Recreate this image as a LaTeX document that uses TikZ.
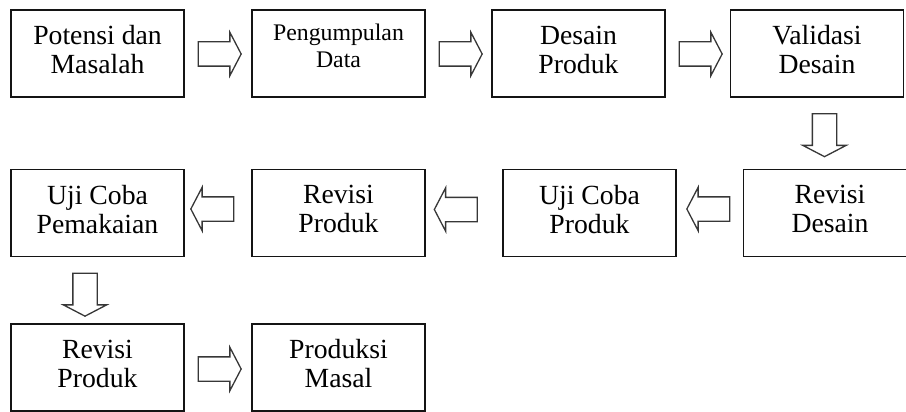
\documentclass[tikz,border=0pt]{standalone}
\usepackage{fontspec}
\setmainfont{Liberation Serif}
\usepackage{xcolor}
\usepackage{tikz}
\usetikzlibrary{positioning, shapes.arrows}
\definecolor{rdBlack}{RGB}{20, 20, 20}
\definecolor{rdGray}{RGB}{55, 55, 55}
\tikzset{
    base/.style={
        font=\fontsize{27.7pt}{29pt}\selectfont,
        align=center
    },
    stage/.style={
        base,
        rectangle,
        draw=rdBlack,
        line width=1.3pt,
        fill=white,
        text=black,
        inner sep=0pt,
        minimum width=173pt,
        minimum height=87pt,
        text depth=8pt
    },
    blockarrow/.style={
        single arrow,
        draw=rdGray,
        line width=1.3pt,
        fill=white,
        inner sep=11.5pt,
        single arrow head extend=9.5pt,
        single arrow tip angle=125,
        minimum height=43pt
    }
}

\begin{document}
\begin{tikzpicture}[x=1pt, y=-1pt]
  \useasboundingbox (0,0) rectangle (906,412);

  % Row 1
  \node[stage] (potensi) at (97.5,53.5) {Potensi dan\\Masalah};
  \node[stage, font=\fontsize{23.8pt}{27pt}\selectfont, text depth=16pt] (pengumpulan) at (338.5,53.5) {Pengumpulan\\Data};
  \node[stage] (desain) at (578.5,53.5) {Desain\\Produk};
  \node[stage] (validasi) at (817,53.5) {Validasi\\Desain};

  % Row 2
  \node[stage] (revdesain) at (830,213) {Revisi\\Desain};
  \node[stage] (ujiproduk) at (589.5,213) {Uji Coba\\Produk};
  \node[stage] (revproduk) at (338.5,213) {Revisi\\Produk};
  \node[stage] (ujipakai) at (97.5,213) {Uji Coba\\Pemakaian};

  % Row 3
  \node[stage] (revproduklagi) at (97.5,367.5) {Revisi\\Produk};
  \node[stage] (produksi) at (338.5,367.5) {Produksi\\Masal};

  % Block arrows
  \node[blockarrow] (arrA) at (216.5,54) {};
  \node[blockarrow] (arrB) at (457.5,54) {};
  \node[blockarrow] (arrC) at (697.5,54) {};
  \node[blockarrow, shape border rotate=270] (arrD) at (824.5,132) {};
  \node[blockarrow, shape border rotate=180] (arrE) at (711.5,209) {};
  \node[blockarrow, shape border rotate=180] (arrF) at (459,209.5) {};
  \node[blockarrow, shape border rotate=180] (arrG) at (215.5,209) {};
  \node[blockarrow, shape border rotate=270] (arrH) at (85,291.5) {};
  \node[blockarrow] (arrI) at (216.5,369) {};
\end{tikzpicture}
\end{document}
